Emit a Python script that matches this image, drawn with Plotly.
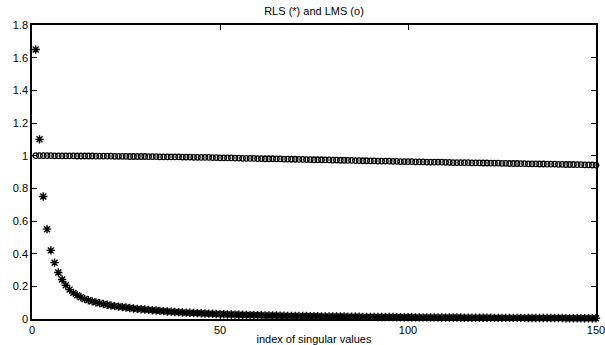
import plotly.graph_objects as go

index = list(range(1, 151))

rls = [1.65, 1.10, 0.75, 0.55, 0.42, 0.345, 0.285, 0.242, 0.207, 0.180,
       0.160, 0.145, 0.133, 0.123, 0.115, 0.108, 0.102, 0.097, 0.092, 0.087,
       0.083, 0.079, 0.076, 0.073, 0.070, 0.067, 0.064, 0.062, 0.060, 0.058,
       0.056, 0.054, 0.052, 0.050, 0.048, 0.046, 0.045, 0.043, 0.042, 0.040,
       0.039, 0.038, 0.037, 0.036, 0.035, 0.034, 0.033, 0.032, 0.031, 0.030,
       0.029, 0.028, 0.028, 0.027, 0.026, 0.026, 0.025, 0.024, 0.024, 0.023,
       0.023, 0.022, 0.022, 0.021, 0.021, 0.020, 0.020, 0.019, 0.019, 0.019,
       0.018, 0.018, 0.018, 0.017, 0.017, 0.017, 0.016, 0.016, 0.016, 0.015,
       0.015, 0.015, 0.015, 0.014, 0.014, 0.014, 0.014, 0.013, 0.013, 0.013,
       0.013, 0.012, 0.012, 0.012, 0.012, 0.012, 0.011, 0.011, 0.011, 0.011,
       0.011, 0.010, 0.010, 0.010, 0.010, 0.010, 0.010, 0.009, 0.009, 0.009,
       0.009, 0.009, 0.009, 0.009, 0.008, 0.008, 0.008, 0.008, 0.008, 0.008,
       0.008, 0.008, 0.007, 0.007, 0.007, 0.007, 0.007, 0.007, 0.007, 0.007,
       0.007, 0.006, 0.006, 0.006, 0.006, 0.006, 0.006, 0.006, 0.006, 0.006,
       0.006, 0.005, 0.005, 0.005, 0.005, 0.005, 0.005, 0.005, 0.005, 0.005]

lms = [1.000, 1.000, 1.000, 1.000, 1.000, 0.999, 0.999, 0.999, 0.999, 0.999,
       0.999, 0.998, 0.998, 0.998, 0.998, 0.998, 0.997, 0.997, 0.997, 0.997,
       0.997, 0.996, 0.996, 0.996, 0.996, 0.995, 0.995, 0.995, 0.995, 0.995,
       0.994, 0.994, 0.994, 0.993, 0.993, 0.993, 0.992, 0.992, 0.992, 0.991,
       0.991, 0.991, 0.990, 0.990, 0.989, 0.989, 0.989, 0.988, 0.988, 0.987,
       0.987, 0.986, 0.986, 0.985, 0.985, 0.984, 0.984, 0.983, 0.983, 0.982,
       0.982, 0.981, 0.981, 0.981, 0.980, 0.980, 0.979, 0.979, 0.978, 0.978,
       0.977, 0.977, 0.976, 0.976, 0.975, 0.975, 0.975, 0.974, 0.974, 0.973,
       0.973, 0.972, 0.972, 0.971, 0.971, 0.970, 0.970, 0.969, 0.969, 0.968,
       0.968, 0.967, 0.967, 0.966, 0.966, 0.965, 0.965, 0.964, 0.964, 0.963,
       0.963, 0.962, 0.962, 0.962, 0.961, 0.961, 0.960, 0.960, 0.960, 0.959,
       0.959, 0.958, 0.958, 0.958, 0.957, 0.957, 0.956, 0.956, 0.956, 0.955,
       0.955, 0.954, 0.954, 0.954, 0.953, 0.953, 0.952, 0.952, 0.952, 0.951,
       0.951, 0.950, 0.950, 0.950, 0.949, 0.949, 0.948, 0.948, 0.948, 0.947,
       0.947, 0.946, 0.946, 0.946, 0.945, 0.945, 0.944, 0.944, 0.943, 0.942]

x_ticks = [0, 50, 100, 150]
x_tick_labels = ["0", "50", "100", "150"]
y_ticks = [0, 0.2, 0.4, 0.6, 0.8, 1.0, 1.2, 1.4, 1.6, 1.8]
y_tick_labels = ["0", "0.2", "0.4", "0.6", "0.8", "1", "1.2", "1.4", "1.6", "1.8"]

fig = go.Figure()
fig.add_trace(go.Scatter(
    x=index, y=lms, mode="markers", name="LMS",
    marker=dict(symbol="circle-open", size=5.5, color="black",
                line=dict(width=1.3, color="black")),
    cliponaxis=False,
))
fig.add_trace(go.Scatter(
    x=index, y=rls, mode="markers", name="RLS",
    marker=dict(symbol="asterisk-open", size=7, color="black",
                line=dict(width=1.4, color="black")),
    cliponaxis=False,
))

font_family = "Liberation Sans, Arial, Helvetica, sans-serif"
axis_common = dict(
    showline=True, linecolor="black", linewidth=1.5, mirror="ticks",
    ticks="inside", ticklen=5, tickcolor="black", tickwidth=1,
    showgrid=False, zeroline=False, automargin=False,
    ticklabeloverflow="allow",
    tickfont=dict(family=font_family, size=11, color="black"),
)

fig.update_layout(
    width=605, height=345,
    margin=dict(l=32, r=9, t=25, b=26, autoexpand=False),
    paper_bgcolor="white", plot_bgcolor="white",
    showlegend=False,
    title=dict(text="RLS (*) and LMS (o)", x=0.5 * (32 + 596) / 605, xanchor="center",
               y=1 - 11 / 345, yanchor="middle",
               font=dict(family=font_family, size=11, color="black")),
    font=dict(family=font_family, size=11, color="black"),
)
fig.update_xaxes(range=[0, 150], tickvals=x_ticks, ticktext=x_tick_labels,
                 ticklabelstandoff=0,
                 title=dict(text="index of singular values", standoff=0,
                            font=dict(family=font_family, size=11, color="black")),
                 **axis_common)
fig.update_yaxes(range=[0, 1.8], tickvals=y_ticks, ticktext=y_tick_labels,
                 **axis_common)

fig.write_html("out.html", config={"displayModeBar": False},
               post_script="document.body.style.margin='0';document.body.style.overflow='hidden';")
